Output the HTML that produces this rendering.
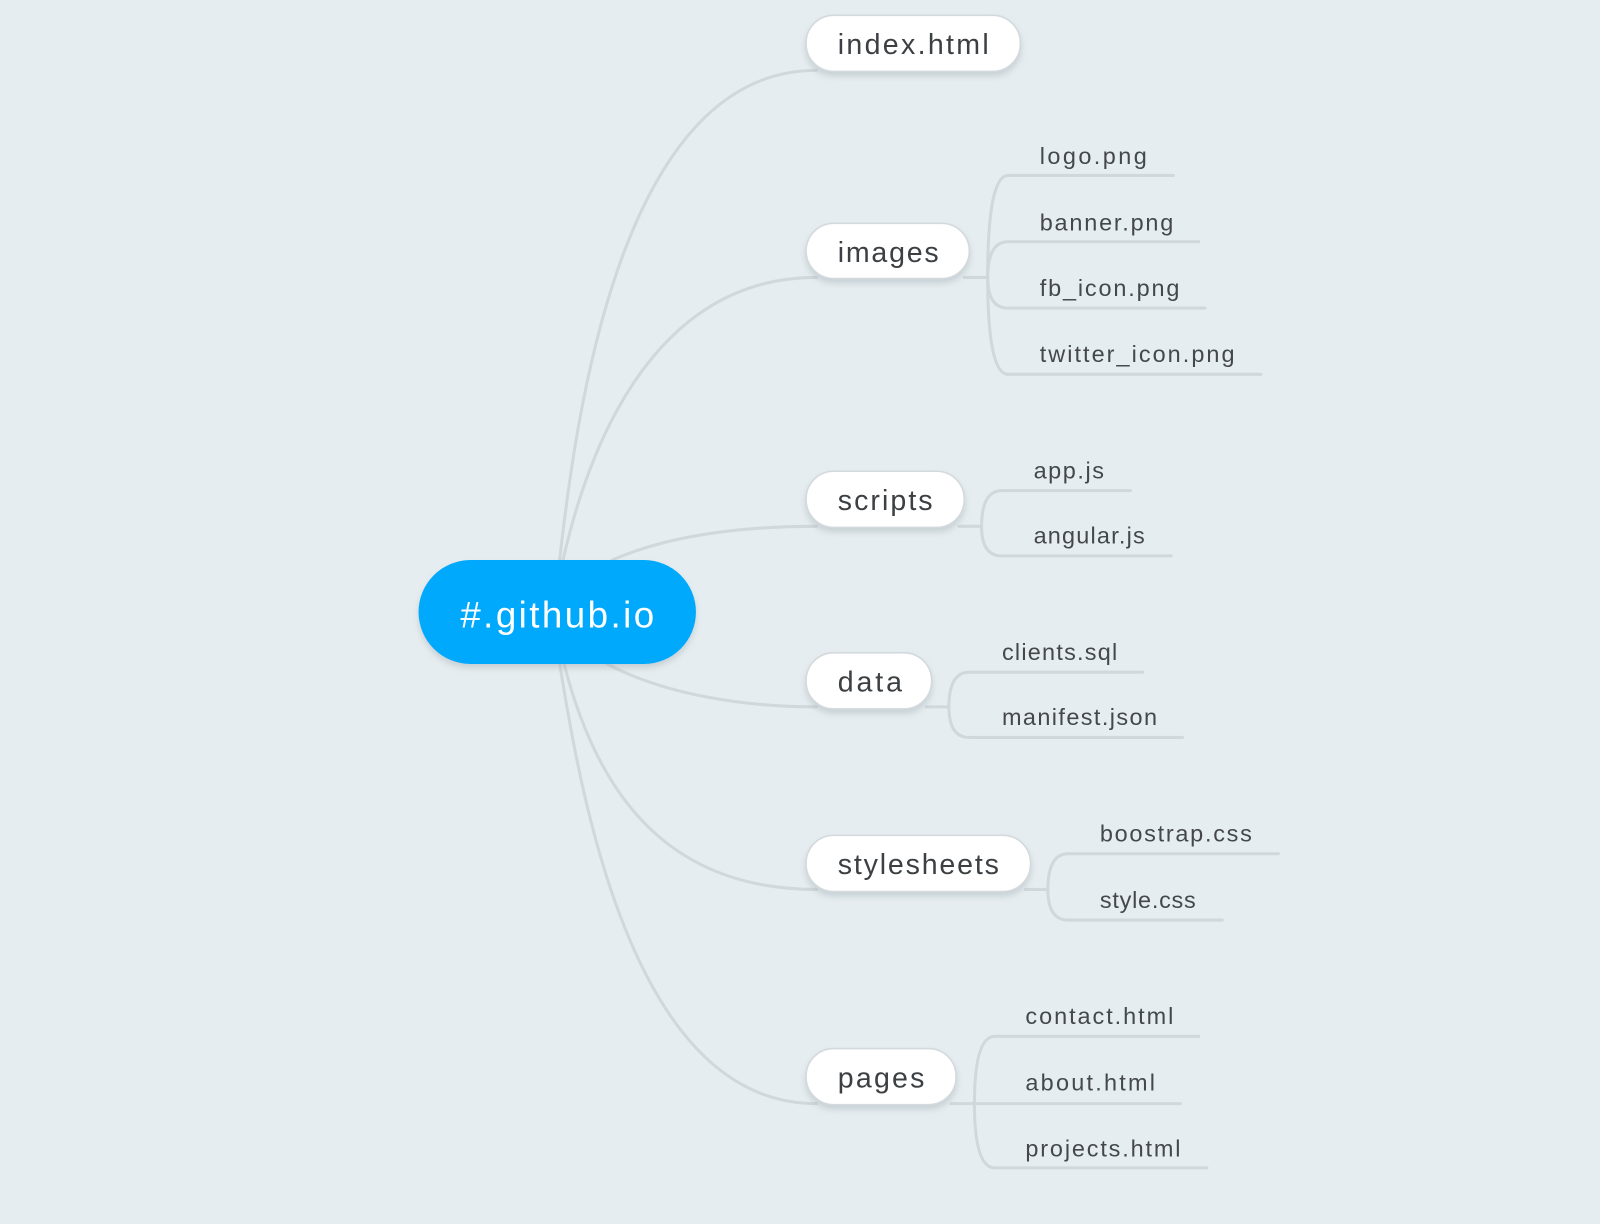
<!DOCTYPE html>
<html><head><meta charset="utf-8"><style>
html,body{margin:0;padding:0;background:#e6edf0;}
svg{display:block;}
text{font-family:"Liberation Sans",sans-serif;}
</style></head><body>
<svg width="1600" height="1224" viewBox="0 0 1568 1200" xmlns="http://www.w3.org/2000/svg">
<defs>
<filter id="sh" x="-20%" y="-30%" width="140%" height="180%"><feDropShadow dx="0" dy="4" stdDeviation="3" flood-color="#8a9aa3" flood-opacity="0.35"/></filter>
</defs>
<rect width="1568" height="1200" fill="#e6edf0"/>
<g fill="none" stroke="#d1d8db" stroke-width="3" stroke-linecap="round">
<path d="M548 552 C565 400 610 69 800 69"/>
<path d="M551 552 C585 400 660 272 800 272"/>
<path d="M600 549 C655 525 725 516 800 516"/>
<path d="M595 651 C650 680 725 693 800 693"/>
<path d="M552 648 C585 780 655 872 800 872"/>
<path d="M548 648 C572 800 625 1082 800 1082"/>
<path d="M945 272 H968"/>
<path d="M968 272 Q968 172 988 172 H1150"/>
<path d="M968 272 Q968 237 988 237 H1175"/>
<path d="M968 272 Q968 302 988 302 H1181"/>
<path d="M968 272 Q968 367 988 367 H1236"/>
<path d="M940 516 H962"/>
<path d="M962 516 Q962 481 982 481 H1108"/>
<path d="M962 516 Q962 545 982 545 H1148"/>
<path d="M908 693 H930"/>
<path d="M930 693 Q930 659 950 659 H1120"/>
<path d="M930 693 Q930 723 950 723 H1159"/>
<path d="M1005 872 H1027"/>
<path d="M1027 872 Q1027 837 1047 837 H1253"/>
<path d="M1027 872 Q1027 902 1047 902 H1198"/>
<path d="M932 1082 H955"/>
<path d="M955 1082 Q955 1016 975 1016 H1175"/>
<path d="M955 1082 H1157"/>
<path d="M955 1082 Q955 1145 975 1145 H1183"/>
</g>
<rect x="410" y="549" width="272" height="102" rx="51" fill="#02a9fc" filter="url(#sh)"/>
<text x="451" y="615" font-size="36" fill="#fff" textLength="190" lengthAdjust="spacing">#.github.io</text>
<g fill="#fff" stroke="#d3d9dc" stroke-width="1.5" filter="url(#sh)">
<rect x="790" y="15" width="210" height="55" rx="27"/>
<rect x="790" y="219" width="160" height="54" rx="27"/>
<rect x="790" y="462" width="155" height="55" rx="27"/>
<rect x="790" y="640" width="123" height="55" rx="27"/>
<rect x="790" y="819" width="220" height="55" rx="27"/>
<rect x="790" y="1028" width="147" height="55" rx="27"/>
</g>
<g font-size="28" fill="#3c4043" lengthAdjust="spacing">
<text x="821" y="53" textLength="148">index.html</text>
<text x="821" y="257" textLength="99">images</text>
<text x="821" y="500" textLength="93">scripts</text>
<text x="821" y="678" textLength="63">data</text>
<text x="821" y="857" textLength="158">stylesheets</text>
<text x="821" y="1066" textLength="85">pages</text>
</g>
<g font-size="23" fill="#44484b">
<text x="1019" y="161" textLength="105">logo.png</text>
<text x="1019" y="226" textLength="131">banner.png</text>
<text x="1019" y="290" textLength="137">fb_icon.png</text>
<text x="1019" y="355" textLength="191">twitter_icon.png</text>
<text x="1013" y="469" textLength="69">app.js</text>
<text x="1013" y="533" textLength="109">angular.js</text>
<text x="982" y="647" textLength="113">clients.sql</text>
<text x="982" y="711" textLength="152">manifest.json</text>
<text x="1078" y="825" textLength="149">boostrap.css</text>
<text x="1078" y="890" textLength="94">style.css</text>
<text x="1005" y="1004" textLength="145">contact.html</text>
<text x="1005" y="1069" textLength="127">about.html</text>
<text x="1005" y="1134" textLength="152">projects.html</text>
</g>
</svg>
</body></html>
